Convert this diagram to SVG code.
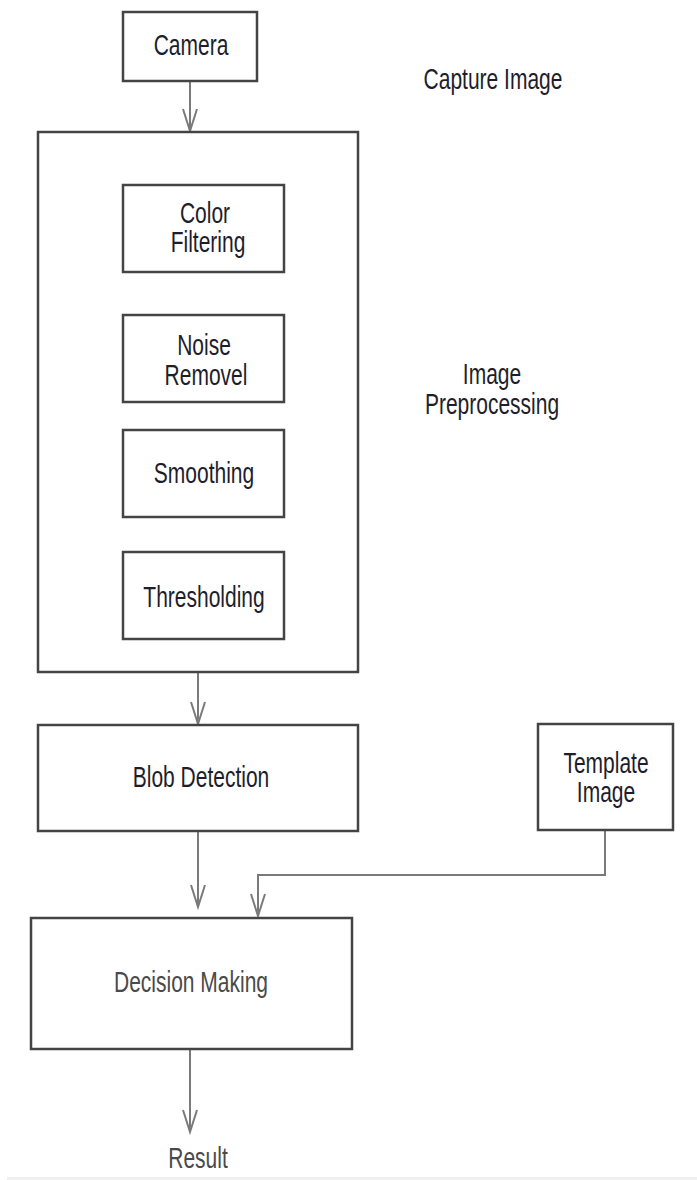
<svg xmlns="http://www.w3.org/2000/svg" width="697" height="1180" viewBox="0 0 697 1180">
<style>
.box{fill:#fff;stroke:#444;stroke-width:2.5}
.lbl{font-family:"Liberation Sans",Arial,sans-serif;font-size:21px;fill:#1e1e2a;text-anchor:middle}
.gray{fill:#4a4a4a}
.conn{fill:none;stroke:#7a7a7a;stroke-width:2}
</style>
<defs>
<marker id="arr" markerUnits="userSpaceOnUse" markerWidth="30" markerHeight="20" viewBox="-22 -10 24 20" refX="0" refY="0" orient="auto">
<path d="M -22 -7 L 0 0 L -22 7" fill="none" stroke="#7a7a7a" stroke-width="2"/>
</marker>
</defs>
<rect x="7" y="1177" width="690" height="3" fill="#efefef"/>
<g id="connectors">
<path class="conn" d="M190 81 V131" marker-end="url(#arr)"/>
<path class="conn" d="M198 672 V724" marker-end="url(#arr)"/>
<path class="conn" d="M198 831 V907" marker-end="url(#arr)"/>
<path class="conn" d="M605 830 V875 H258 V916" marker-end="url(#arr)"/>
<path class="conn" d="M190 1049 V1132" marker-end="url(#arr)"/>
</g>
<g id="camera">
<rect class="box" x="123" y="12" width="134" height="69"/>
<text class="lbl" transform="translate(191,55) scale(1,1.4)">Camera</text>
</g>
<g id="capture-image-label">
<text class="lbl" transform="translate(493,89) scale(1,1.37)">Capture Image</text>
</g>
<g id="preprocessing">
<rect class="box" x="38" y="132" width="320" height="540"/>
</g>
<g id="preprocessing-label">
<text class="lbl" transform="translate(492,384) scale(1,1.37)">Image</text>
<text class="lbl" transform="translate(492,414) scale(1,1.37)">Preprocessing</text>
</g>
<g id="color-filtering">
<rect class="box" x="123" y="185" width="161" height="87"/>
<text class="lbl" transform="translate(205,223) scale(1,1.37)">Color</text>
<text class="lbl" transform="translate(208,252) scale(1,1.37)">Filtering</text>
</g>
<g id="noise-removel">
<rect class="box" x="123" y="315" width="161" height="87"/>
<text class="lbl" transform="translate(204,355) scale(1,1.37)">Noise</text>
<text class="lbl" transform="translate(206,385) scale(1,1.37)">Removel</text>
</g>
<g id="smoothing">
<rect class="box" x="123" y="430" width="161" height="87"/>
<text class="lbl" transform="translate(204,483) scale(1,1.37)">Smoothing</text>
</g>
<g id="thresholding">
<rect class="box" x="123" y="552" width="161" height="87"/>
<text class="lbl" transform="translate(204,607) scale(1,1.37)">Thresholding</text>
</g>
<g id="blob-detection">
<rect class="box" x="38" y="725" width="320" height="106"/>
<text class="lbl" transform="translate(201,787) scale(1,1.37)">Blob Detection</text>
</g>
<g id="template-image">
<rect class="box" x="538" y="724" width="135" height="106"/>
<text class="lbl" transform="translate(606,773) scale(1,1.37)">Template</text>
<text class="lbl" transform="translate(606,802) scale(1,1.37)">Image</text>
</g>
<g id="decision-making">
<rect class="box" x="31" y="918" width="321" height="131"/>
<text class="lbl gray" transform="translate(191,992) scale(1,1.37)">Decision Making</text>
</g>
<g id="result">
<text class="lbl gray" transform="translate(198,1168) scale(1,1.37)">Result</text>
</g>
</svg>
